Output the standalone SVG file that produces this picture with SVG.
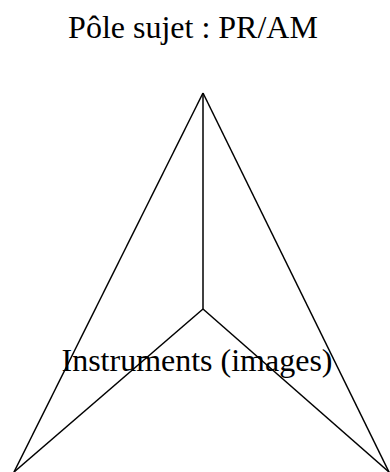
<svg xmlns="http://www.w3.org/2000/svg" width="390" height="472" viewBox="0 0 390 472">
<style>
.t{font-family:"Liberation Serif","Times New Roman",serif;font-size:32px;fill:#000}
.c line{stroke:#000;stroke-width:1.5;fill:none}
</style>
<rect width="390" height="472" fill="#fff"/>
<g id="connectors" class="c">
<line x1="203" y1="93" x2="14" y2="472"/>
<line x1="203" y1="93" x2="389" y2="472"/>
<line x1="203" y1="93" x2="203" y2="309"/>
<line x1="203" y1="309" x2="14" y2="472"/>
<line x1="203" y1="309" x2="389" y2="472"/>
</g>
<g id="pole-sujet"><text class="t" x="193" y="38" text-anchor="middle">Pôle sujet : PR/AM</text></g>
<g id="instruments"><text class="t" x="197" y="371" text-anchor="middle">Instruments (images)</text></g>
</svg>
